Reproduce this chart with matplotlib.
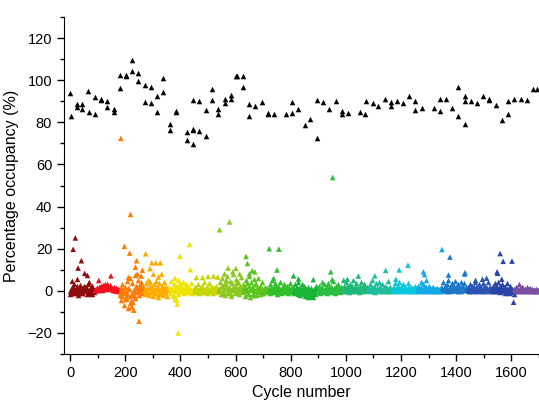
import numpy as np
import matplotlib
matplotlib.use("Agg")
import matplotlib.pyplot as plt

plt.rcParams['font.family'] = ['Liberation Sans', 'DejaVu Sans']

# black points: high occupancy (cycle, %)
black_x = [0, 2, 24, 24, 45, 45, 66, 67, 89, 90, 113, 113, 135, 135, 158, 158,
           181, 181, 202, 204, 224, 224, 247, 247, 270, 270, 292, 292, 314, 314,
           337, 337, 361, 361, 383, 383, 424, 424, 447, 447, 447, 447, 469, 469,
           492, 492, 514, 514, 537, 537, 560, 560, 583, 583, 602, 605, 627, 627,
           650, 650, 672, 694, 716, 716, 739, 782, 804, 804, 828, 850, 871, 894,
           894, 917, 940, 963, 986, 986, 1008, 1050, 1071, 1073, 1097, 1118, 1140,
           1163, 1163, 1186, 1207, 1230, 1252, 1252, 1275, 1318, 1340, 1340, 1363,
           1386, 1407, 1407, 1430, 1430, 1430, 1453, 1476, 1497, 1520, 1520, 1543,
           1565, 1588, 1588, 1611, 1634, 1655, 1677, 1691]
black_y = [94.0, 82.8, 88.5, 87.1, 88.9, 86.5, 95.0, 84.7, 92.2, 84.1, 91.0, 90.5,
           90.3, 87.3, 86.4, 84.8, 102.6, 96.1, 102.3, 101.8, 109.6, 104.2, 103.2,
           99.8, 97.5, 89.7, 96.6, 89.2, 92.3, 85.1, 101.0, 94.2, 79.0, 76.4, 85.5,
           85.0, 75.6, 71.8, 77.0, 76.4, 69.6, 90.4, 90.0, 76.1, 85.7, 73.4, 95.7,
           90.8, 86.5, 84.1, 91.2, 89.0, 92.8, 91.2, 102.1, 102.1, 102.1, 96.6,
           88.5, 82.8, 87.6, 89.7, 84.6, 84.0, 83.8, 83.8, 89.8, 84.2, 86.5, 78.8,
           81.4, 90.4, 72.6, 89.7, 86.4, 90.0, 85.5, 84.0, 84.3, 84.8, 83.8, 90.0,
           89.3, 87.9, 90.9, 89.8, 87.7, 90.1, 89.0, 92.3, 90.1, 85.7, 87.0, 86.7,
           90.9, 85.4, 90.9, 86.9, 96.9, 82.8, 92.3, 90.1, 79.0, 90.3, 89.0, 92.5,
           91.2, 90.8, 88.1, 81.1, 90.0, 83.8, 91.2, 91.2, 90.5, 95.8, 95.8]

# colour blocks along the cycle axis
seg_start = [0, 90, 180, 270, 360, 450, 540, 630, 720, 810, 900, 990, 1080,
             1170, 1260, 1350, 1440, 1530, 1610]
seg_color = ['#8e0c0c', '#f0101e', '#ff7a00', '#ffaa00', '#f2e200', '#c6d600',
             '#8cc81e', '#5cc41e', '#30bf2c', '#18b43a', '#2cbe40', '#1eb878',
             '#1ebe9c', '#08c6dc', '#14a8e4', '#1e78c8', '#2a56b2', '#2a44a6',
             '#7a4ea2']

# low occupancy values, one every 3 cycles inside each block
seg_vals = [
    [-1.5, 0.5, 2.0, -0.8, 1.2, 3.0, -1.0, 0.2, 2.4, -1.8, 1.0, 0.0, 2.8, -0.5, 1.5,
     -1.2, 0.6, 2.2, -0.3, 1.8, -1.6, 0.8, 3.2, -0.9, 0.4, 1.6, -1.3, 2.5, 0.1, -0.6],
    [0.2, 1.0, 0.5, 1.4, 0.3, 1.8, 0.8, 2.2, 0.6, 1.5, 2.6, 1.0, 3.0, 1.8, 0.7,
     3.4, 2.2, 1.2, 2.8, 0.9, 2.0, 1.5, 0.4, 1.8, 1.0, 0.3, 1.2, 0.1, 0.8, 0.2],
    [-2.0, 1.5, -4.5, 3.0, -1.0, -6.5, 2.0, 0.0, -3.0, 4.5, -8.0, 1.0, -2.5, 6.0, -5.0,
     3.5, -1.5, 0.5, 7.5, -3.5, 2.5, -0.5, 5.0, -2.0, 3.0, 1.0, 4.0, -1.0, 2.0, 0.5],
    [1.0, -1.5, 3.5, 0.0, 5.0, -2.0, 2.0, 4.0, -0.5, 1.5, -2.5, 3.0, 0.5, -1.0, 4.5,
     2.0, -3.0, 1.0, 3.5, -1.5, 0.0, 2.5, -2.0, 1.5, 4.0, -0.5, 2.0, -2.5, 0.5, 1.0],
    [2.0, -1.0, 4.5, 0.5, -2.5, 3.0, 1.0, -4.0, 2.5, 0.0, 5.0, -1.5, 1.5, 3.5, -0.5,
     2.0, 0.5, 4.0, -1.0, 1.0, 3.0, 0.0, 2.0, -0.5, 1.5, 0.5, 3.5, -1.0, 1.0, 0.0],
    [0.0, 2.0, -0.5, 1.0, 3.0, 0.5, -1.0, 1.5, 0.0, 2.5, -0.5, 1.0, 4.0, 0.0, 1.5,
     -1.0, 2.0, 0.5, 3.5, -0.5, 1.0, 0.0, 2.0, -1.0, 1.5, 0.5, 2.5, 0.0, 1.0, -0.5],
    [1.0, 4.0, -1.5, 2.5, 6.0, 0.0, 3.0, -2.0, 5.0, 1.5, 7.0, -1.0, 2.0, 4.5, 0.5,
     -2.5, 3.5, 8.0, 1.0, -1.0, 5.5, 2.0, 0.0, 4.0, -1.5, 2.5, 6.5, 1.0, -0.5, 3.0],
    [2.0, -2.5, 5.0, 0.5, 3.5, -1.5, 7.0, 1.0, -3.0, 4.0, 2.0, -1.0, 5.5, 0.0, 3.0,
     -2.0, 1.5, 6.0, 0.5, -1.5, 2.5, 0.0, 4.0, -1.0, 1.0, 2.0, -0.5, 0.5, 1.5, 0.0],
    [0.5, 3.0, -1.0, 1.5, 5.0, 0.0, 2.0, -0.5, 3.5, 1.0, -1.5, 2.5, 0.0, 1.5, 4.0,
     -1.0, 0.5, 2.0, -0.5, 3.0, 1.0, 0.0, 2.5, -1.0, 1.5, 0.5, 3.5, -0.5, 1.0, 2.0],
    [1.0, -1.0, 3.0, 0.0, 2.0, -1.5, 4.0, 0.5, -2.0, 1.5, 3.0, -1.0, 0.0, 2.5, -2.5,
     1.0, -1.5, 2.0, -3.0, 0.5, -2.0, 1.5, -2.5, 0.0, -3.0, 1.0, -1.5, 2.5, -0.5, 1.0],
    [0.0, 2.5, -1.0, 1.5, 4.0, 0.5, -0.5, 3.0, 1.0, 0.0, 2.0, -1.0, 3.5, 1.0, 0.0,
     2.0, -0.5, 1.5, 4.5, 0.5, -1.0, 2.5, 1.0, 0.0, 3.0, 1.5, -0.5, 2.0, 0.5, 1.0],
    [0.5, 2.5, 0.0, 1.5, 4.0, 0.5, 2.0, -0.5, 3.0, 1.0, 0.0, 2.5, 5.0, 1.0, 0.0,
     2.0, 3.5, 0.5, 1.5, -0.5, 2.5, 1.0, 4.0, 0.0, 1.5, 3.0, 0.5, 1.0, 0.0, 2.0],
    [0.5, 1.5, 0.0, 3.0, 1.0, 5.0, 0.5, 2.0, -0.5, 1.5, 3.5, 0.5, 1.0, 4.0, 0.0,
     2.0, 1.0, 3.0, 0.5, 1.5, 0.0, 2.5, 1.0, 0.0, 4.5, 1.5, 0.5, 2.0, 0.0, 1.0],
    [0.0, 2.0, 0.5, 3.5, 1.0, 0.0, 2.5, 1.5, 4.0, 0.5, 0.0, 1.5, 3.0, 0.5, 1.0,
     2.0, 0.0, 1.0, 3.5, 0.5, 1.5, 0.0, 2.0, 1.0, 0.0, 1.5, 0.5, 2.5, 0.0, 1.0],
    [0.5, 2.5, 0.0, 1.5, 4.0, 0.5, 3.0, 1.0, 0.0, 2.0, 5.0, 0.5, 1.5, 0.0, 2.5,
     1.0, 0.0, 1.5, 0.5, 2.0, 0.0, 1.0, 0.5, 1.5, 0.0, 0.5, 1.0, 0.0, 2.0, 0.5],
    [1.5, 4.0, 0.5, 2.5, 0.0, 3.0, 1.0, 5.0, 0.5, 2.0, 0.0, 3.5, 1.5, 0.5, 2.5,
     4.5, 1.0, 0.0, 2.0, 3.0, 0.5, 1.5, 4.0, 0.0, 2.5, 1.0, 3.5, 0.5, 2.0, 1.0],
    [0.5, 2.0, 0.0, 3.0, 1.0, 0.5, 2.5, 0.0, 1.5, 4.0, 0.5, 2.0, 1.0, 0.0, 3.0,
     1.5, 0.5, 2.0, 0.0, 3.5, 1.0, 0.5, 2.5, 0.0, 1.5, 4.0, 0.5, 1.0, 2.0, 0.0],
    [1.0, 2.5, 0.0, 3.5, 1.5, 0.0, 2.0, 4.0, 0.5, -0.5, 2.5, 1.0, 3.0, 0.0, 1.5,
     -1.0, 2.0, 0.5, 3.5, 0.0, -1.0, 1.5, 2.5, -0.5, 1.0, 0.0, -1.5],
    [1.0, 0.0, 2.0, 0.5, 1.5, 0.0, 3.0, 1.0, 0.5, 2.0, 0.0, 1.5, 0.5, 1.0, 0.0,
     2.0, 0.5, 1.0, 0.0, 1.5, 0.5, 0.0, 1.0, 0.5, 0.0, 0.5, 1.0, 0.0, 0.5, 0.0],
]

# extra values filling the core of the band, one every 6 cycles (offset 1.5)
seg_fill = [
    [0.0, -1.0, 1.0, 0.5, -0.5, 1.5, 0.0, -1.0, 0.8, 1.8, -0.2, 0.6, -0.8, 1.2, 0.3],
    [0.6, 1.2, 0.9, 1.6, 2.0, 2.4, 1.6, 2.6, 2.0, 1.4, 1.0, 0.6, 0.4, 0.9, 0.5],
    [-0.5, -2.5, 0.5, -4.0, -1.5, 1.5, -6.0, -2.0, 0.0, -3.0, 1.5, 0.0, 2.0, 0.5, 1.5],
    [0.0, 1.5, -1.0, 2.5, 0.5, -0.5, 1.0, 2.0, -1.5, 0.5, 1.5, -1.0, 0.0, 1.0, 0.5],
    [0.5, 1.5, -2.0, -3.0, 0.0, 1.5, 2.0, 0.5, -0.5, 1.0, 2.5, 0.0, 1.0, 0.5, 0.0],
    [0.5, 1.0, 0.0, -0.5, 1.5, 0.5, 1.0, -0.5, 0.5, 1.5, 0.0, 1.0, 0.5, 0.0, 1.0],
    [0.5, 2.0, -1.0, 1.0, 3.0, 0.0, 1.5, -1.5, 2.0, 0.5, 3.5, 1.0, -0.5, 1.5, 0.5],
    [0.0, 1.5, -1.0, 2.5, 0.5, -2.0, 1.0, 3.0, -0.5, 0.5, 2.0, -1.0, 1.0, 0.0, 0.5],
    [1.0, 0.0, 1.5, 0.5, 2.0, -0.5, 1.0, 0.0, 1.5, 0.5, -0.5, 1.0, 0.0, 1.5, 0.5],
    [0.0, 1.0, -0.5, 1.5, 0.0, -1.0, 0.5, -1.5, -0.5, -2.0, 0.0, -1.5, -1.0, 0.5, 0.0],
    [1.0, 0.0, 1.5, 0.5, -0.5, 1.0, 2.0, 0.0, 0.5, 1.5, -0.5, 1.0, 0.5, 0.0, 1.5],
    [1.0, 0.0, 2.0, 0.5, 1.5, 0.0, 1.0, 2.0, 0.5, 1.0, 0.0, 1.5, 0.5, 2.0, 1.0],
    [1.0, 0.5, 2.0, 0.0, 1.0, 1.5, 0.5, 2.0, 0.0, 1.0, 0.5, 1.5, 0.0, 1.0, 0.5],
    [1.0, 0.5, 1.5, 0.0, 1.0, 2.0, 0.5, 0.0, 1.0, 1.5, 0.5, 0.0, 1.0, 0.5, 0.0],
    [1.0, 0.5, 1.5, 0.0, 1.0, 2.0, 0.5, 0.0, 1.0, 0.5, 0.0, 1.0, 0.5, 0.0, 1.0],
    [0.5, 2.0, 1.0, 0.0, 1.5, 2.5, 0.5, 1.0, 2.0, 0.0, 1.5, 0.5, 2.0, 1.0, 0.5],
    [1.0, 0.0, 1.5, 0.5, 2.0, 0.0, 1.0, 1.5, 0.5, 0.0, 2.0, 1.0, 0.5, 1.5, 0.0],
    [1.5, 0.5, 2.0, 0.0, 1.0, 1.5, 0.0, 2.0, 0.5, 1.0, -0.5, 1.5, 0.5, 0.0],
    [0.5, 1.0, 0.0, 1.5, 0.5, 0.0, 1.0, 0.5, 0.0, 1.0, 0.5, 0.0, 0.5, 0.0, 0.5],
]

# scattered points away from the band
out_x = [11, 19, 29, 41, 53, 63, 27, 8, 70, 104, 148,
         184, 197, 219, 216, 241, 237, 262, 212, 250, 231, 224, 228, 205, 244, 258,
         274, 296, 311, 327, 332, 302, 290, 320,
         398, 433, 436, 392, 388, 386, 380,
         458, 480, 500, 520, 535,
         542, 578, 573, 601, 560, 590, 615,
         638, 643, 660, 670, 650,
         722, 757, 750, 738, 810, 828, 882, 945, 952, 950,
         992, 1005, 1045, 1105, 1144, 1193, 1225, 1181, 1281, 1285,
         1348, 1377, 1372, 1430, 1432, 1470, 1495, 1510,
         1559, 1570, 1602, 1548, 1550, 1565, 1608]
out_y = [19.7, 25.1, 10.8, 14.3, 8.3, 7.3, 5.4, 4.5, 4.0, 4.9, 7.1,
         72.4, 21.1, 36.3, 17.9, 14.3, 11.2, 9.8, 6.4, -14.4, -9.2, -7.6, -5.5, -4.0, 8.0, 7.0,
         17.6, 13.3, 13.3, 13.3, 7.9, 7.9, 10.5, 6.5,
         16.4, 22.0, 10.0, -20.0, -6.3, -4.4, 6.0,
         6.3, 6.3, 6.8, 7.0, 6.5,
         29.0, 32.7, 10.8, 10.6, 8.0, 9.0, 8.0,
         16.3, 13.0, 9.5, 9.0, 8.0,
         20.0, 19.8, 9.9, 5.9, 7.1, 5.6, 5.3, 9.0, 53.8, 5.3,
         5.0, 5.5, 7.0, 7.1, 9.7, 9.9, 12.2, 5.5, 9.0, 7.7,
         19.6, 16.0, 7.5, 8.0, 8.6, 5.0, 5.5, 6.0,
         17.7, 14.0, 14.1, 9.0, 8.3, 5.5, -5.4]

fig = plt.figure(figsize=(5.39, 4.01), dpi=100)
ax = fig.add_axes([64 / 539, 47 / 401, 475 / 539, 337 / 401])

ms = 16
for start, col, vals, fill in zip(seg_start, seg_color, seg_vals, seg_fill):
    xs = start + 3 * np.arange(len(vals))
    ax.scatter(xs, vals, marker='^', s=ms, color=col, linewidths=0)
    xf = start + 1.5 + 6 * np.arange(len(fill))
    ax.scatter(xf, fill, marker='^', s=ms, color=col, linewidths=0)

idx = np.searchsorted(seg_start, out_x, side='right') - 1
ax.scatter(out_x, out_y, marker='^', s=ms, linewidths=0,
           color=[seg_color[i] for i in idx])

ax.scatter(black_x, black_y, marker='^', s=ms, color='black', linewidths=0)

ax.set_xlim(-22, 1694)
ax.set_ylim(-30, 130)
ax.set_xticks(np.arange(0, 1601, 200))
ax.set_xticks(np.arange(100, 1701, 200), minor=True)
ax.set_yticks(np.arange(-20, 121, 20))
ax.set_yticks(np.arange(-30, 131, 10), minor=True)
ax.spines['top'].set_visible(False)
ax.spines['right'].set_visible(False)
ax.tick_params(which='major', direction='out', length=5, width=1, labelsize=10.5)
ax.tick_params(which='minor', direction='out', length=3, width=1)

ax.set_xlabel('Cycle number', fontsize=11.5)
ax.set_ylabel('Percentage occupancy (%)', fontsize=11.5, labelpad=6)

fig.savefig('out.png', dpi=100)
